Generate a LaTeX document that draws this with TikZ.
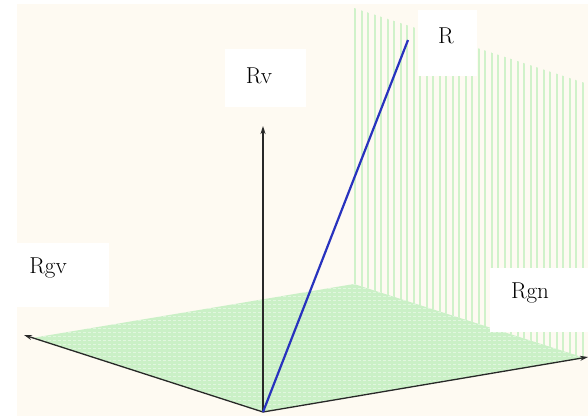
\documentclass[tikz,border=0pt]{standalone}
\usepackage{xcolor}
\usepackage{tikz}
\usetikzlibrary{arrows.meta, positioning}
\definecolor{creambg}{RGB}{254, 250, 242}
\definecolor{floorgreen}{RGB}{202, 240, 198}
\definecolor{wallgreen}{RGB}{208, 242, 202}
\definecolor{rblue}{RGB}{40, 50, 190}
\definecolor{axisgray}{RGB}{40, 40, 40}

\begin{document}
\begin{tikzpicture}[
    x=1pt, y=-1pt,
    every node/.style={font=\fontsize{23}{27}\selectfont},
    lblbox/.style={fill=white, draw=none, inner sep=0pt},
    lbl/.style={inner sep=0pt},
    axis/.style={-{Stealth[length=8pt, width=5pt]}, line width=1.3pt, draw=axisgray},
]

%% Fondo: margen blanco y zona crema
\useasboundingbox (0,0) rectangle (588,416);
\fill[white] (0,0) rectangle (588,416);
\fill[creambg] (17,4) rectangle (588,416);

%% Puntos del diagrama
\coordinate (o)  at (263,412);
\coordinate (gv) at (24,335);
\coordinate (gn) at (588,357);
\coordinate (v)  at (263,126);
\coordinate (rtip) at (408,40);
\coordinate (fl) at (32,338);
\coordinate (fr) at (585,358);
\coordinate (fb) at (354,284);
\coordinate (wt) at (354,8);
\coordinate (wr) at (585,83);

%% Pared vertical rayada
\begin{scope}
\clip (fb) -- (wt) -- (wr) -- (fr) -- cycle;
\foreach \x in {355,361.5,...,590}
  \draw[wallgreen, line width=2pt] (\x,0) -- (\x,416);
\end{scope}

%% Suelo
\fill[floorgreen] (o) -- (fl) -- (fb) -- (fr) -- cycle;
\begin{scope}
\clip (o) -- (fl) -- (fb) -- (fr) -- cycle;
\foreach \k in {0,4,...,130}
  \draw[white, opacity=0.45, line width=0.8pt, dash pattern=on 3pt off 2pt]
    (o) ++(0,-\k) ++(-260,0) -- ++(620,0);
\end{scope}

%% Ejes y vector
\draw[axis] (o) -- (gv);
\draw[axis] (o) -- (gn);
\draw[axis] (o) -- (v);
\draw[rblue, line width=2.2pt] (o) -- (rtip);

%% Etiquetas
\node[lblbox, minimum width=59pt, minimum height=66pt] (rbox)   at (447.5,43) {};
\node[lbl] (r)   at (446,36)  {R};
\node[lblbox, minimum width=81pt, minimum height=58pt] (rvbox)  at (265.5,78) {};
\node[lbl] (rv)  at (259,76)  {Rv};
\node[lblbox, minimum width=92pt, minimum height=64pt] (rgvbox) at (63,275) {};
\node[lbl] (rgv) at (48,268)  {Rgv};
\node[lblbox, minimum width=98pt, minimum height=64pt] (rgnbox) at (539,300) {};
\node[lbl] (rgn) at (530,293) {Rgn};

\end{tikzpicture}
\end{document}
